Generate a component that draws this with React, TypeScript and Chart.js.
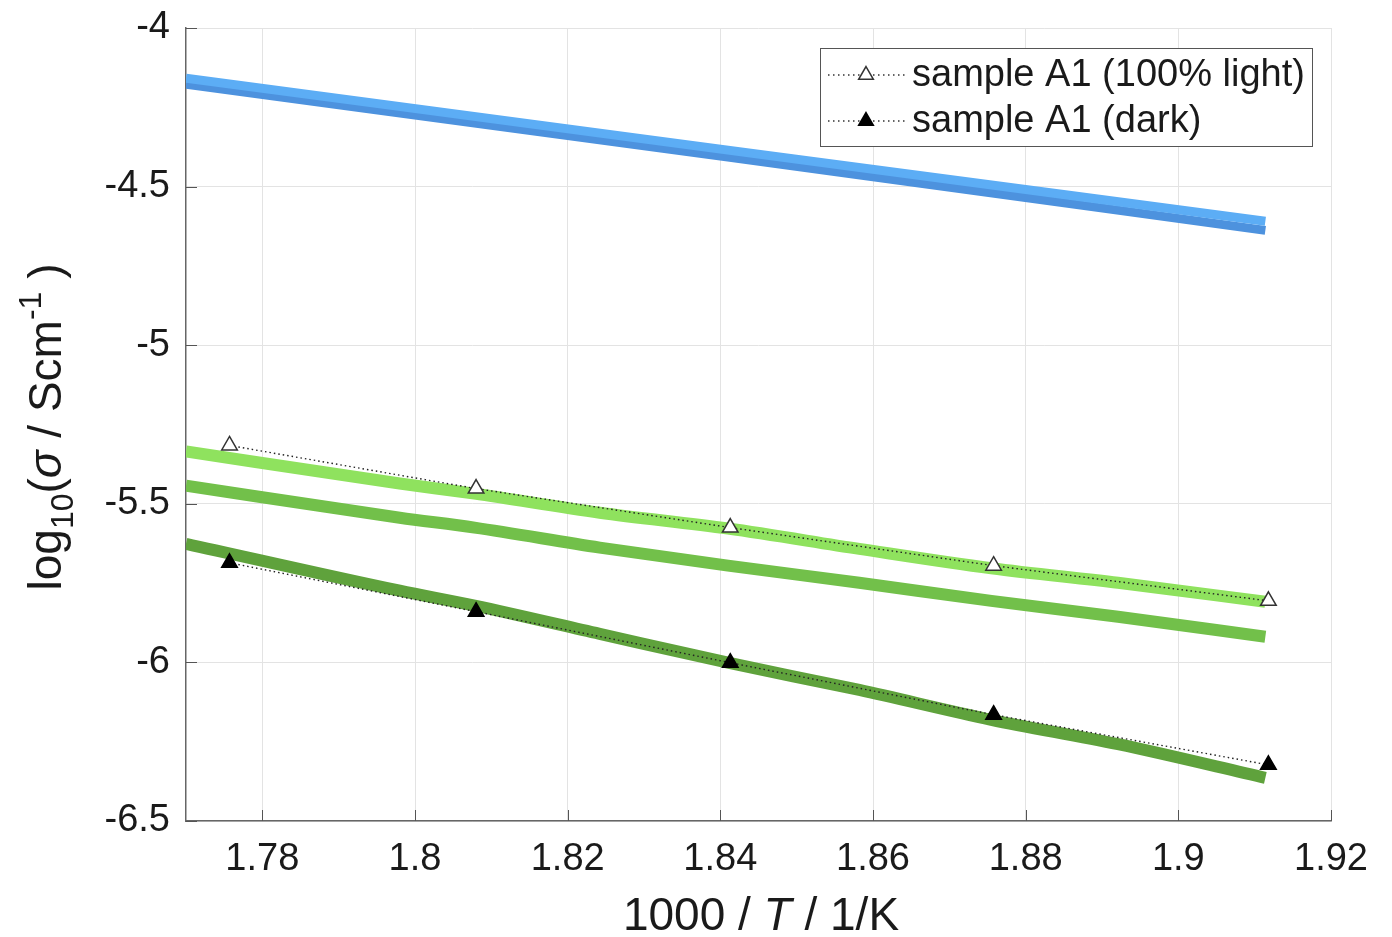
import React, { useEffect, useRef } from "react";
import { Chart, registerables } from "chart.js";

Chart.register(...registerables);

// ---- data ----
const xTicks = [1.78, 1.8, 1.82, 1.84, 1.86, 1.88, 1.9, 1.92];
const yTicks = [-6.5, -6, -5.5, -5, -4.5, -4];

const invT = [1.7757, 1.808, 1.8413, 1.8758, 1.9118];
const lightMeasured = [-5.316, -5.452, -5.575, -5.695, -5.806];
const darkMeasured = [-5.686, -5.84, -6.001, -6.165, -6.323];

const fitX = [1.77, 1.798, 1.8078, 1.8242, 1.841, 1.8582, 1.8755, 1.8921, 1.9114];
const fitLight = [-5.335, -5.436, -5.468, -5.528, -5.578, -5.642, -5.703, -5.749, -5.809];
const fitMid = [-5.443, -5.544, -5.575, -5.638, -5.695, -5.749, -5.806, -5.856, -5.919];
const fitDark = [-5.626, -5.774, -5.821, -5.91, -6.001, -6.087, -6.181, -6.258, -6.364];

const blueX = [1.77, 1.841, 1.9114];
const blueUpper = [-4.158, -4.385, -4.609];
const blueLower = [-4.177, -4.407, -4.638];

const legendLabels = ["sample A1 (100% light)", "sample A1 (dark)"];

const FONT = '"Liberation Sans", Arial, Helvetica, sans-serif';
const TEXT = "#1a1a1a";

const pts = (xs: number[], ys: number[]) => xs.map((x, i) => ({ x, y: ys[i] }));

type Seg = { text: string; font: string; dy?: number };
function drawRich(ctx: CanvasRenderingContext2D, segs: Seg[], cx: number, cy: number) {
  let total = 0;
  const widths = segs.map((s) => {
    ctx.font = s.font;
    const w = ctx.measureText(s.text).width;
    total += w;
    return w;
  });
  let x = cx - total / 2;
  segs.forEach((s, i) => {
    ctx.font = s.font;
    ctx.fillText(s.text, x, cy + (s.dy || 0));
    x += widths[i];
  });
}

function drawTri(ctx: CanvasRenderingContext2D, x: number, y: number, r: number, fill: string, stroke: string) {
  ctx.beginPath();
  ctx.moveTo(x, y - r);
  ctx.lineTo(x + r * Math.sin((2 * Math.PI) / 3), y - r * Math.cos((2 * Math.PI) / 3));
  ctx.lineTo(x + r * Math.sin((4 * Math.PI) / 3), y - r * Math.cos((4 * Math.PI) / 3));
  ctx.closePath();
  ctx.fillStyle = fill;
  ctx.fill();
  ctx.strokeStyle = stroke;
  ctx.lineWidth = 1.5;
  ctx.stroke();
}

const decor = {
  id: "decor",
  afterDraw(chart: any) {
    const { ctx, chartArea: a, scales } = chart;
    ctx.save();
    // inward tick marks (left and bottom)
    ctx.strokeStyle = "#555";
    ctx.lineWidth = 1;
    ctx.beginPath();
    yTicks.forEach((v) => {
      const y = Math.round(scales.y.getPixelForValue(v)) + 0.5;
      ctx.moveTo(a.left, y);
      ctx.lineTo(a.left + 11, y);
    });
    xTicks.forEach((v) => {
      const x = Math.round(scales.x.getPixelForValue(v)) + 0.5;
      ctx.moveTo(x, a.bottom);
      ctx.lineTo(x, a.bottom - 11);
    });
    ctx.stroke();

    // legend
    const bx = 820.5, by = 48.5, bw = 492, bh = 98;
    ctx.fillStyle = "#fff";
    ctx.fillRect(bx, by, bw, bh);
    ctx.strokeStyle = "#555";
    ctx.lineWidth = 1;
    ctx.strokeRect(bx, by, bw, bh);
    const rows = [75, 121];
    rows.forEach((ry, i) => {
      ctx.save();
      ctx.strokeStyle = "#333";
      ctx.lineWidth = 1.3;
      ctx.setLineDash([1.5, 3.5]);
      ctx.beginPath();
      ctx.moveTo(828, ry);
      ctx.lineTo(905, ry);
      ctx.stroke();
      ctx.restore();
      drawTri(ctx, 866, ry, 8.5, i === 0 ? "#fff" : "#000", i === 0 ? "#333" : "#000");
      ctx.fillStyle = TEXT;
      ctx.font = `38px ${FONT}`;
      ctx.textBaseline = "middle";
      ctx.textAlign = "left";
      ctx.fillText(legendLabels[i], 912, ry + 1);
    });

    // axis titles
    ctx.fillStyle = TEXT;
    ctx.textBaseline = "alphabetic";
    ctx.textAlign = "left";
    drawRich(
      ctx,
      [
        { text: "1000 / ", font: `46px ${FONT}` },
        { text: "T", font: `italic 46px ${FONT}` },
        { text: " / 1/K", font: `46px ${FONT}` },
      ],
      761,
      930
    );
    const big = `46px ${FONT}`;
    const bigI = `italic 46px ${FONT}`;
    const small = `32px ${FONT}`;
    ctx.save();
    ctx.translate(61, 427);
    ctx.rotate(-Math.PI / 2);
    drawRich(
      ctx,
      [
        { text: "log", font: big },
        { text: "10", font: small, dy: 12 },
        { text: "(", font: big },
        { text: "σ", font: bigI },
        { text: " / Scm", font: big },
        { text: "-1", font: small, dy: -20 },
        { text: " )", font: big },
      ],
      0,
      0
    );
    ctx.restore();
    ctx.restore();
  },
};

export default function App() {
  const ref = useRef<HTMLCanvasElement | null>(null);

  useEffect(() => {
    if (!ref.current) return;
    const markerDs = (label: string, ys: number[], fill: string, stroke: string) => ({
      label,
      data: pts(invT, ys),
      borderColor: "#222",
      borderWidth: 1.4,
      borderDash: [1.5, 3],
      pointStyle: "triangle",
      pointRadius: 9,
      pointBackgroundColor: fill,
      pointBorderColor: stroke,
      pointBorderWidth: 1.5,
      fill: false,
      tension: 0,
    });
    const fitDs = (label: string, xs: number[], ys: number[], color: string, w: number) => ({
      label,
      data: pts(xs, ys),
      borderColor: color,
      backgroundColor: color,
      borderWidth: w,
      pointRadius: 0,
      fill: false,
      cubicInterpolationMode: "monotone",
    });

    const chart = new Chart(ref.current, {
      type: "line",
      data: {
        datasets: [
          markerDs(legendLabels[0], lightMeasured, "#ffffff", "#333333"),
          markerDs(legendLabels[1], darkMeasured, "#000000", "#000000"),
          fitDs("fit light", fitX, fitLight, "#8fe25e", 12),
          fitDs("fit mid", fitX, fitMid, "#72c04a", 12),
          fitDs("fit dark", fitX, fitDark, "#5fa23c", 12),
          fitDs("blue upper", blueX, blueUpper, "#5cadf5", 9),
          fitDs("blue lower", blueX, blueLower, "#4d92de", 9),
        ] as any,
      },
      options: {
        responsive: false,
        animation: false,
        devicePixelRatio: 1,
        events: [],
        layout: { padding: { left: 0, top: 28, right: 61, bottom: 0 } },
        plugins: {
          legend: { display: false },
          tooltip: { enabled: false },
          title: { display: false },
        },
        scales: {
          x: {
            type: "linear",
            min: 1.77,
            max: 1.92,
            afterBuildTicks: (s: any) => {
              s.ticks = xTicks.map((v) => ({ value: v }));
            },
            afterFit: (s: any) => {
              s.height = 116;
              s.paddingLeft = 0;
              s.paddingRight = 0;
            },
            grid: { color: "#e3e3e3", lineWidth: 1, drawTicks: false },
            border: { display: true, color: "#666", width: 1.5 },
            ticks: {
              color: TEXT,
              font: { family: FONT, size: 38 },
              padding: 16,
              maxRotation: 0,
              autoSkip: false,
              callback: (v: any) => String(v),
            },
          },
          y: {
            type: "linear",
            min: -6.5,
            max: -4,
            afterBuildTicks: (s: any) => {
              s.ticks = yTicks.map((v) => ({ value: v }));
            },
            afterFit: (s: any) => {
              s.width = 186;
              s.paddingTop = 0;
              s.paddingBottom = 0;
            },
            grid: { color: "#e3e3e3", lineWidth: 1, drawTicks: false },
            border: { display: true, color: "#666", width: 1.5 },
            ticks: {
              color: TEXT,
              font: { family: FONT, size: 38 },
              padding: 16,
              autoSkip: false,
              callback: (v: any) => String(v),
            },
          },
        },
      } as any,
      plugins: [decor],
    });
    return () => chart.destroy();
  }, []);

  return (
    <div style={{ position: "fixed", left: 0, top: 0, width: 1392, height: 937, background: "#fff" }}>
      <canvas ref={ref} width={1392} height={937} style={{ width: 1392, height: 937, display: "block" }} />
    </div>
  );
}
